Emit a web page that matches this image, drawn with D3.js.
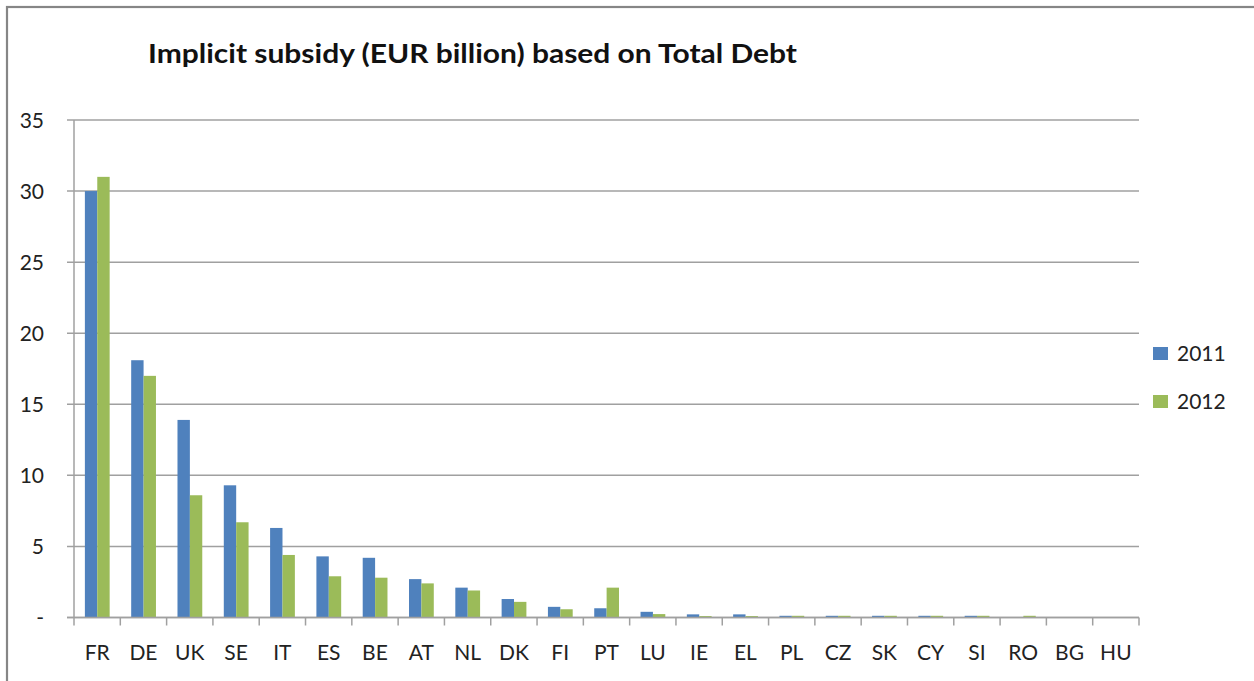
<!DOCTYPE html>
<html><head><meta charset="utf-8">
<script src="https://cdn.jsdelivr.net/npm/d3@7"></script>
<style>html,body{margin:0;padding:0;background:#fff;}svg{display:block;}</style>
</head><body>
<script>
const categories = ["FR","DE","UK","SE","IT","ES","BE","AT","NL","DK","FI","PT","LU","IE","EL","PL","CZ","SK","CY","SI","RO","BG","HU"];
const values2011 = [30.0,18.1,13.9,9.3,6.3,4.3,4.2,2.7,2.1,1.3,0.75,0.65,0.4,0.22,0.22,0.12,0.12,0.12,0.12,0.12,0,0,0];
const values2012 = [31.0,17.0,8.6,6.7,4.4,2.9,2.8,2.4,1.9,1.1,0.58,2.1,0.24,0.1,0.1,0.12,0.12,0.12,0.12,0.12,0.12,0,0];
const seriesNames = ["2011","2012"];
const yTicks = [0,5,10,15,20,25,30,35];
const colors = ["#4F81BD","#9BBB59"];
const title = "Implicit subsidy (EUR billion) based on Total Debt";

(function(){
const W=1254,H=681;
const svg=d3.select("body").append("svg").attr("width",W).attr("height",H);
const font="Lato, 'Open Sans', sans-serif";

svg.append("rect").attr("x",7).attr("y",7).attr("width",1300).attr("height",700)
  .attr("fill","none").attr("stroke","#868686").attr("stroke-width",2.2);

const pl=74,pr=1139,pt=120,pb=617.5;
const x0=d3.scaleBand().domain(categories).range([pl,pr]).padding(0);
const x1=d3.scaleBand().domain(seriesNames).range([x0.bandwidth()*0.235,x0.bandwidth()*0.77]).padding(0);
const y=d3.scaleLinear().domain([0,35]).range([pb,pt]);

svg.append("g").selectAll("line").data(yTicks).join("line")
  .attr("x1",67).attr("x2",pr).attr("y1",d=>y(d)).attr("y2",d=>y(d))
  .attr("stroke","#A0A0A0").attr("stroke-width",1.5);

svg.append("line").attr("x1",pl).attr("x2",pl).attr("y1",pt).attr("y2",pb)
  .attr("stroke","#A0A0A0").attr("stroke-width",1.5);

svg.append("g").selectAll("text").data(yTicks).join("text")
  .attr("x",44).attr("y",d=>y(d)).attr("dy","0.36em").attr("text-anchor","end")
  .attr("font-family",font).attr("font-size",21).attr("fill","#222")
  .text(d=>d===0?"-":d3.format("d")(d));

const groups=svg.append("g").selectAll("g").data(categories).join("g")
  .attr("transform",d=>`translate(${x0(d)},0)`);
groups.selectAll("rect").data((d,i)=>[{s:"2011",v:values2011[i],c:0},{s:"2012",v:values2012[i],c:1}]).join("rect")
  .attr("x",d=>x1(d.s)).attr("width",x1.bandwidth())
  .attr("y",d=>y(d.v)).attr("height",d=>y(0)-y(d.v))
  .attr("fill",d=>colors[d.c]);

svg.append("line").attr("x1",67).attr("x2",pr).attr("y1",pb).attr("y2",pb)
  .attr("stroke","#A0A0A0").attr("stroke-width",1.5);
const bounds=categories.map(c=>x0(c)).concat([pr]);
svg.append("g").selectAll("line").data(bounds).join("line")
  .attr("x1",d=>d).attr("x2",d=>d).attr("y1",pb).attr("y2",pb+8)
  .attr("stroke","#A0A0A0").attr("stroke-width",1.5);

svg.append("g").selectAll("text").data(categories).join("text")
  .attr("x",d=>x0(d)+x0.bandwidth()/2).attr("y",660)
  .attr("text-anchor","middle").attr("font-family",font).attr("font-size",21).attr("fill","#222")
  .text(d=>d);

svg.append("text").attr("x",148).attr("y",63).attr("font-family",font).attr("font-weight","bold")
  .attr("font-size",27).attr("fill","#111").attr("textLength",649).attr("lengthAdjust","spacingAndGlyphs").text(title);

const leg=svg.append("g").selectAll("g").data(seriesNames).join("g")
  .attr("transform",(d,i)=>`translate(1153,${347+i*48})`);
leg.append("rect").attr("width",15).attr("height",13).attr("fill",(d,i)=>colors[i]);
leg.append("text").attr("x",24).attr("y",14).attr("font-family",font).attr("font-size",21).attr("fill","#222").text(d=>d);
})();
</script>
</body></html>
